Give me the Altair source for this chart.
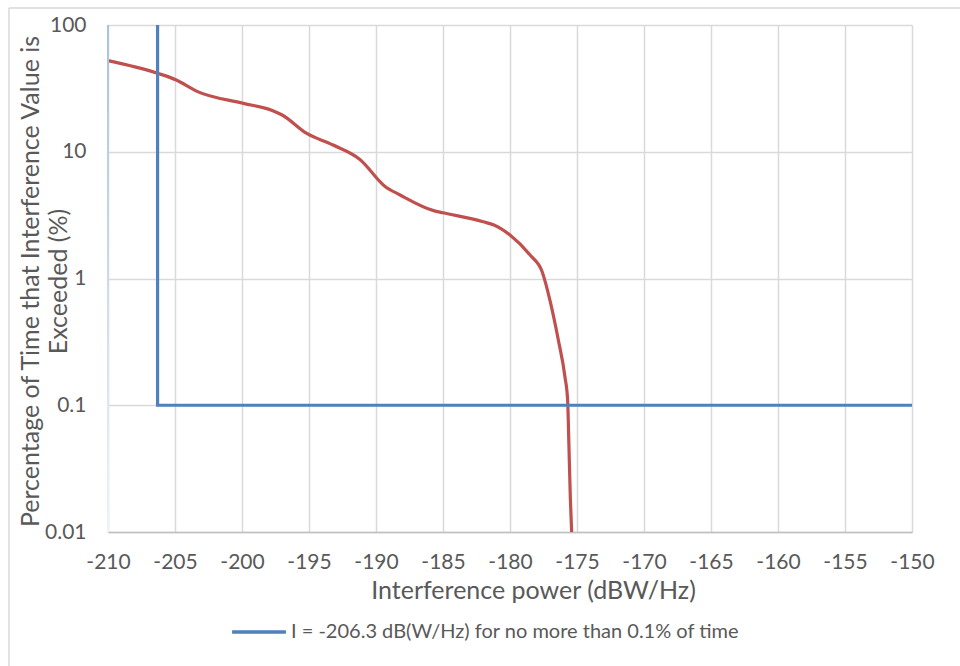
import altair as alt
import pandas as pd

# Exceedance curve of interference power (percentage of time exceeded)
curve_power = [-210, -206.3, -204.9, -203.4, -199.9, -197.7, -197.0, -195.2, -193.2,
               -191.2, -189.3, -188.2, -185.7, -185.0, -182.0, -181.2, -180.0, -178.5,
               -177.6, -177.0, -176.4, -175.9, -175.7, -175.6, -175.5, -175.4]
curve_pct = [52.3, 41.6, 36.8, 30.1, 24.1, 21.1, 19.5, 14.0, 11.3,
             8.7, 5.3, 4.56, 3.43, 3.30, 2.8, 2.64, 2.20, 1.53,
             1.13, 0.66, 0.33, 0.168, 0.11, 0.047, 0.019, 0.01]

# Protection criterion: -206.3 dB(W/Hz) for no more than 0.1% of time
limit_label = "I = -206.3 dB(W/Hz) for no more than 0.1% of time"
limit_power = [-206.3, -206.3, -150]
limit_pct = [100, 0.1, 0.1]

x_ticks = list(range(-210, -149, 5))
y_ticks = [0.01, 0.1, 1, 10, 100]

FONT = "Lato"
TEXT = "#595959"
RED = "#c0504d"
BLUE = "#4f81bd"

curve_df = pd.DataFrame({"power": curve_power, "pct": curve_pct, "order": range(len(curve_power))})
limit_df = pd.DataFrame({"power": limit_power, "pct": limit_pct,
                         "order": range(len(limit_power)), "series": [limit_label] * 3})

x_enc = alt.X("power:Q",
              scale=alt.Scale(domain=[-210, -150], nice=False, zero=False),
              axis=alt.Axis(values=x_ticks, title="Interference power (dBW/Hz)",
                            labelExpr="'' + datum.value",
                            labelFlush=False, labelOverlap=False,
                            ticks=False, labelPadding=19,
                            titleX=425, titleY=46, titleAlign="center",
                            domainColor="#bfbfbf", domainWidth=1.5,
                            gridColor="#d9d9d9", gridWidth=1.5))
y_enc = alt.Y("pct:Q",
              scale=alt.Scale(type="log", domain=[0.01, 100], nice=False),
              axis=alt.Axis(values=y_ticks, labelExpr="'' + datum.value",
                            labelFlush=False, labelOverlap=False,
                            ticks=False, domain=False, labelPadding=22,
                            title=["Percentage of Time that Interference Value is", "Exceeded (%)"],
                            titleX=-90, titleY=256, titleAngle=-90,
                            titleAlign="center", titleBaseline="top", titleLineHeight=28,
                            gridColor="#d9d9d9", gridWidth=1.5))

curve = alt.Chart(curve_df).mark_line(color=RED, strokeWidth=3.2, interpolate="monotone").encode(
    x=x_enc, y=y_enc, order="order:Q")

limit = alt.Chart(limit_df).mark_line(strokeWidth=3.2).encode(
    x="power:Q", y="pct:Q", order="order:Q",
    color=alt.Color("series:N",
                    scale=alt.Scale(domain=[limit_label], range=[BLUE]),
                    legend=alt.Legend(title=None, orient="none", legendX=122, legendY=578,
                                      symbolType="stroke", symbolSize=2900,
                                      symbolStrokeWidth=3.5, labelFontSize=20,
                                      labelLimit=800,
                                      labelFont=FONT, labelColor=TEXT, labelOffset=3)))

# Left edge of the plot, drawn as a fading blue band
left_edge = alt.Chart(pd.DataFrame({"k": [0]})).mark_rect(
    color=alt.LinearGradient(gradient="linear",
                             stops=[alt.GradientStop(offset=0, color="#a8c2e4"),
                                    alt.GradientStop(offset=1, color="#eef3fa")],
                             x1=0, x2=0, y1=0, y2=1)
).encode(x=alt.value(-1), x2=alt.value(1), y=alt.value(0), y2=alt.value(507))

# Outer chart frame (top and left edges)
frame_top = alt.Chart(pd.DataFrame({"k": [0]})).mark_rule(color="#d9d9d9", strokeWidth=1.5).encode(
    x=alt.value(-99), x2=alt.value(860), y=alt.value(-17))
frame_left = alt.Chart(pd.DataFrame({"k": [0]})).mark_rule(color="#d9d9d9", strokeWidth=1.5).encode(
    x=alt.value(-99), y=alt.value(-17), y2=alt.value(650))

chart = alt.layer(frame_top, frame_left, curve, limit, left_edge).properties(
    width=804, height=507,
    autosize=alt.AutoSizeParams(type="none"),
    padding={"left": 108, "top": 25, "right": 48, "bottom": 134},
    background="white",
).configure_view(stroke=None).configure_axis(
    labelFont=FONT, labelFontSize=21, labelColor=TEXT,
    titleFont=FONT, titleFontSize=25, titleColor=TEXT, titleFontWeight="normal",
)

chart.save("out.html", embed_options={"renderer": "svg", "actions": False})
